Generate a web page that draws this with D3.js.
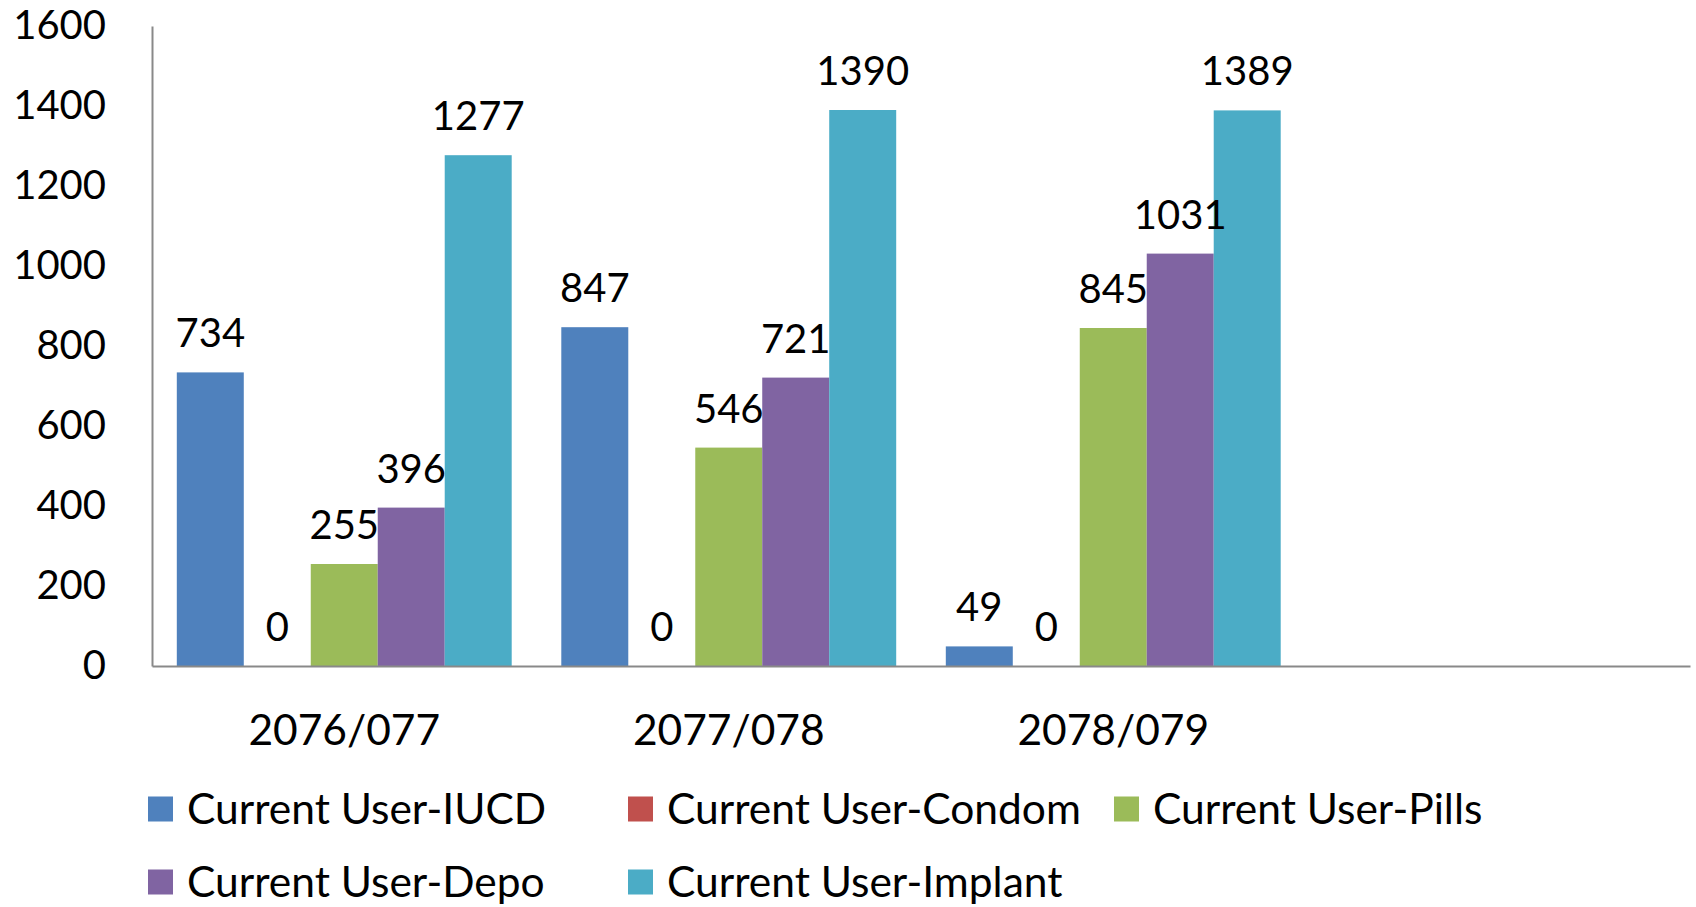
<!DOCTYPE html>
<html><head><meta charset="utf-8">
<script src="https://cdn.jsdelivr.net/npm/d3@7"></script>
<style>
html,body{margin:0;padding:0;background:#fff;}
svg{display:block;font-family:Lato, "Noto Sans", sans-serif;}
</style></head>
<body><svg id="c" width="1696" height="907"></svg>
<script>
const categories = ["2076/077", "2077/078", "2078/079", ""];
const seriesNames = ["Current User-IUCD", "Current User-Condom", "Current User-Pills", "Current User-Depo", "Current User-Implant"];
const iucd    = [734, 847, 49];
const condom  = [0, 0, 0];
const pills   = [255, 546, 845];
const depo    = [396, 721, 1031];
const implant = [1277, 1390, 1389];
const yTicks  = [0, 200, 400, 600, 800, 1000, 1200, 1400, 1600];
const colors  = ["#4F81BD", "#C0504D", "#9BBB59", "#8064A2", "#4BACC6"];

const seriesValues = [iucd, condom, pills, depo, implant];
const svg = d3.select("#c");
const L = 152, R = 1690, T = 26, B = 666;
const fs = 40, fsL = 42.5;

const y = d3.scaleLinear().domain([0, 1600]).range([B, T]);
const x0 = d3.scaleBand().domain(categories).range([L, R]).paddingInner(0).paddingOuter(0);
const gap = x0.bandwidth() * 0.129 / 2;
const x1 = d3.scaleBand().domain(seriesNames).range([gap, x0.bandwidth() - gap]).padding(0);
const color = d3.scaleOrdinal().domain(seriesNames).range(colors);

// bars
const rows = [];
seriesNames.forEach((s, si) => {
  seriesValues[si].forEach((v, ci) => rows.push({s, c: categories[ci], v}));
});
svg.append("g").selectAll("rect").data(rows).join("rect")
  .attr("x", d => x0(d.c) + x1(d.s))
  .attr("y", d => y(d.v))
  .attr("width", x1.bandwidth())
  .attr("height", d => B - y(d.v))
  .attr("fill", d => color(d.s));

// value labels
svg.append("g").selectAll("text").data(rows).join("text")
  .attr("x", d => x0(d.c) + x1(d.s) + x1.bandwidth() / 2)
  .attr("y", d => y(d.v) - 25)
  .attr("text-anchor", "middle")
  .attr("font-size", fs)
  .attr("fill", "#000")
  .text(d => d.v);

// y axis
const ya = svg.append("g").attr("transform", `translate(${L},0)`)
  .call(d3.axisLeft(y).tickValues(yTicks).tickFormat(d3.format("d")).tickSize(0).tickSizeOuter(0).tickPadding(46));
ya.selectAll("text").attr("font-size", fs).attr("fill", "#000").attr("font-family", "Lato, 'Noto Sans', sans-serif");
ya.select(".domain").attr("stroke", "#898989").attr("stroke-width", 2);

// x axis
const xa = svg.append("g").attr("transform", `translate(0,${B})`)
  .call(d3.axisBottom(x0).tickSize(0).tickSizeOuter(0).tickPadding(49));
xa.selectAll("text").attr("font-size", fsL).attr("fill", "#000").attr("font-family", "Lato, 'Noto Sans', sans-serif");
xa.select(".domain").attr("stroke", "#898989").attr("stroke-width", 2);

// legend
const legPos = [[148, 809], [628, 809], [1114, 809], [148, 882], [628, 882]];
const lg = svg.append("g").selectAll("g").data(seriesNames).join("g")
  .attr("transform", (d, i) => `translate(${legPos[i][0]},${legPos[i][1]})`);
lg.append("rect").attr("x", 0).attr("y", -12.5).attr("width", 25).attr("height", 25).attr("fill", d => color(d));
lg.append("text").attr("x", 39).attr("y", 0).attr("dy", "0.35em")
  .attr("font-size", fsL).attr("fill", "#000").text(d => d);
</script>
</body></html>
